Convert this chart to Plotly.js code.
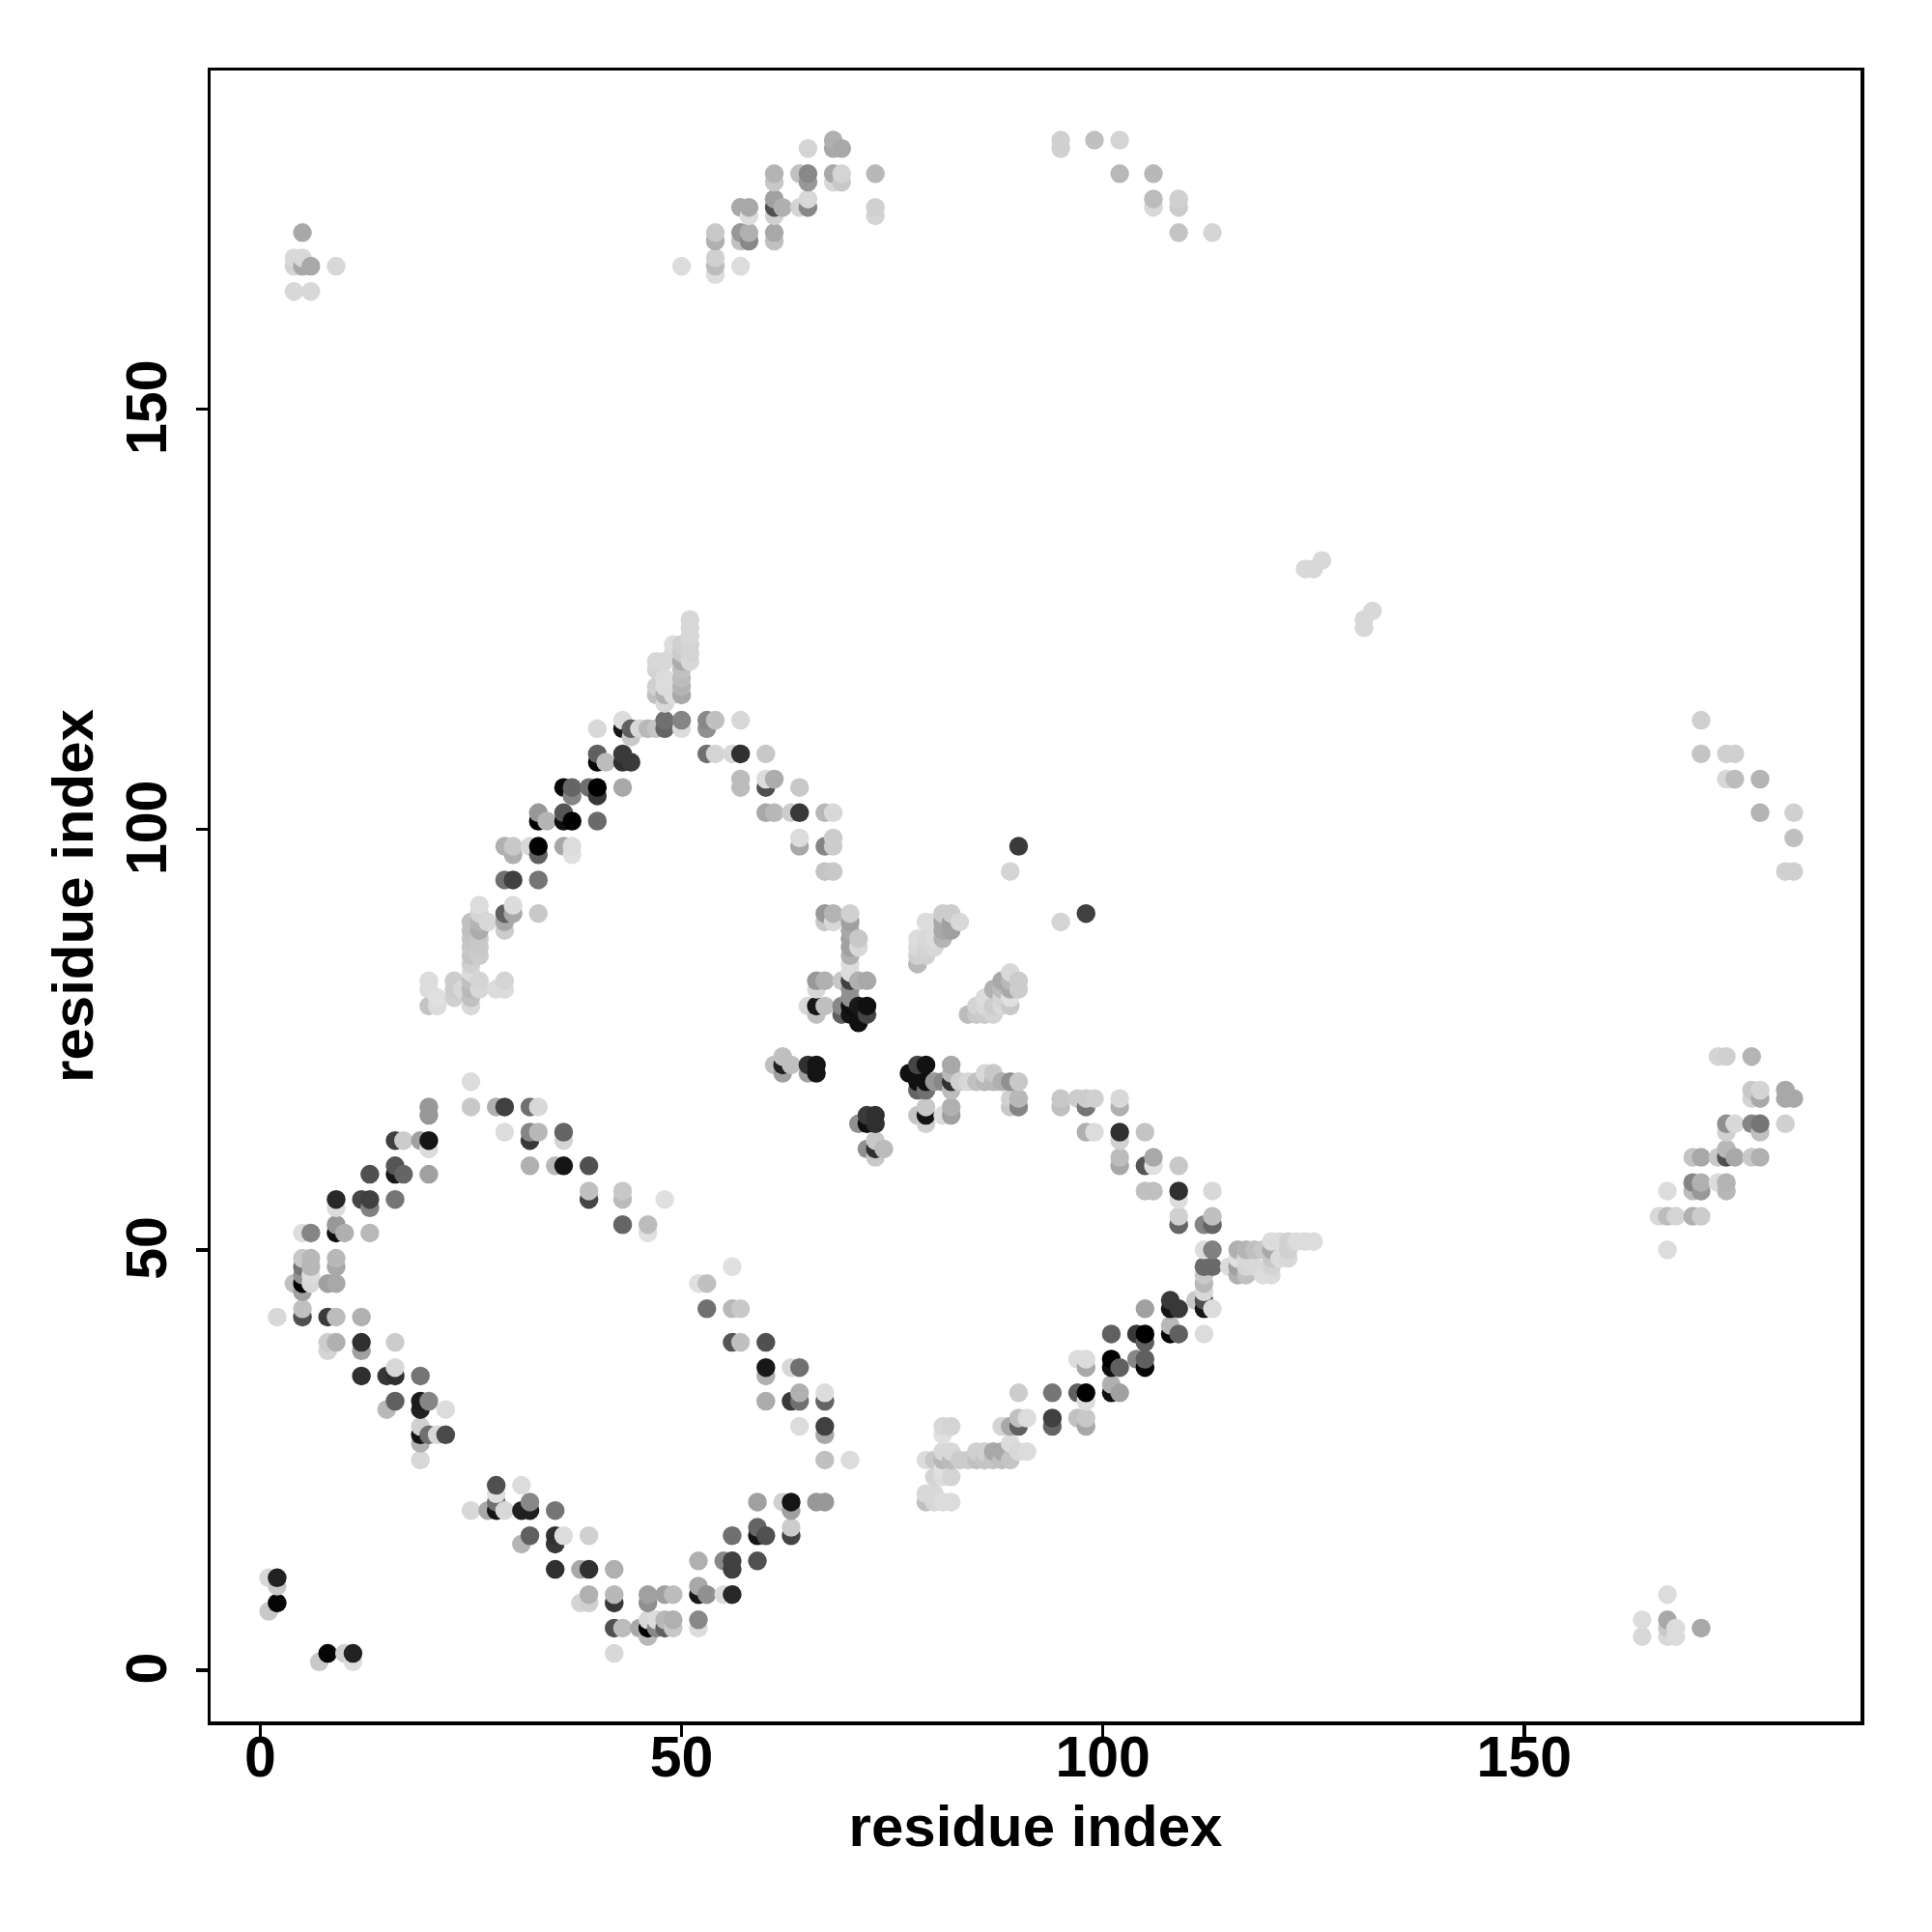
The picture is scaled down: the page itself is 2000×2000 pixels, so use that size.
<!DOCTYPE html>
<html>
<head>
<meta charset="utf-8">
<script src="https://cdn.plot.ly/plotly-3.0.1.min.js"></script>
<style>html,body{margin:0;padding:0;background:#fff}#chart{width:2000px;height:2000px}</style>
</head>
<body>
<div id="chart"></div>
<script>
// Each entry: [residue index i, residue index j, grey level 0 (black) .. 255 (white)]
const cornerContacts = [[1,7,0xc8],[1,11,0xd8],[2,8,0x05],[2,10,0xc8],[2,11,0x22],[7,1,0xc8],[8,2,0x05],[10,2,0xd0],[11,1,0xdd],[11,2,0x22],[42,2,0xd8]];
const lowerLeftArm = [[2,42,0xd8],[5,42,0x50],[5,43,0xc0],[8,42,0x3a],[9,42,0xbc],[12,42,0xb0],[8,39,0xcc],[9,39,0xb0],[12,39,0x30],[16,39,0xcc],[8,38,0xd4],[12,38,0xa0],
[12,35,0x30],[15,35,0x38],[16,35,0x30],[19,35,0x75],[16,36,0xd8],[15,31,0xb8],[16,32,0x60],[19,32,0x1c],[20,32,0x85],[19,31,0x22],[22,31,0xdc],
[19,28,0x15],[20,28,0x70],[21,28,0xd8],[22,28,0x4a],[19,29,0xd0],[19,27,0xb0],[19,25,0xd8],
[28,22,0x50],[31,22,0xdc],[28,21,0xe0],[28,20,0x70],[25,19,0xd8],[27,19,0xa8],[28,19,0x15],[29,19,0xd8],[31,19,0x20],[32,19,0x20],[32,20,0x88],[35,19,0x75],
[32,16,0x60],[35,16,0x30],[36,16,0xdc],[39,16,0xd0],[31,15,0xb4],[35,15,0x38],[35,12,0x30],[38,12,0xa8],[39,12,0x30],[42,12,0xb0],
[39,9,0xb0],[42,9,0xb8],[46,9,0xa0],[48,9,0xa0],[49,9,0xbc],[38,8,0xd4],[39,8,0xd0],[42,8,0x38],[46,8,0x90],
[42,5,0x50],[43,5,0xbc],[45,5,0xa8],[46,5,0x00],[47,5,0x88],[48,5,0x60],[49,5,0xc8],[46,6,0xd8],[47,6,0xdc],[48,6,0xb8],[49,6,0xb0],[46,4,0xb8]];
const lowerMiddleArm = [[52,5,0xdc],[52,6,0x88],[52,9,0x18],[52,10,0xa8],[53,9,0x90],[55,9,0xdc],[56,9,0x28],[52,13,0xb0],[55,13,0x88],[56,13,0x40],[59,13,0x50],[56,12,0x40],
[56,16,0x70],[59,16,0x15],[60,16,0x50],[63,16,0x45],[59,17,0x65],[63,17,0xcc],[59,20,0xa0],[62,20,0xd0],[63,20,0x15],[66,20,0x98],[67,20,0x98],[63,19,0xa0],
[67,25,0xc0],[70,25,0xdc],[64,29,0xdc],[67,29,0x40],[67,28,0xa8],[60,32,0xac],[63,32,0x3a],[64,32,0x70],[64,33,0xb0],[67,32,0x65],[67,33,0xdc],
[60,36,0x18],[63,36,0xd8],[64,36,0x70],[60,35,0xb0],[56,39,0x55],[57,39,0xc0],[60,39,0x50],[53,43,0x70],[56,43,0xb8],[57,43,0xc8],[52,46,0xe0],[53,46,0xc0],[56,48,0xe0]];
const upperLeftLowerArc = [[4,46,0xc0],[5,46,0x00],[6,46,0xd8],[8,46,0xa0],[9,46,0xa8],[5,45,0xa0],[5,47,0x90],[6,47,0xdc],[5,48,0x75],[6,48,0xb8],[9,48,0xa8],[5,49,0xc8],[6,49,0xb8],[9,49,0xb8],
[5,52,0xdc],[6,52,0x85],[9,52,0x10],[10,52,0xb0],[13,52,0xb8],[9,53,0x98],[9,55,0xdc],[13,55,0x80],[9,56,0x28],[12,56,0x45],[13,56,0x40],[16,56,0x75],
[13,59,0x50],[16,59,0x18],[17,59,0x65],[20,59,0xa0],[16,60,0x55],[16,63,0x40],[17,63,0xcc],[19,63,0xa0],[20,63,0x15],[20,62,0xdc],[20,66,0x98],[20,67,0x98],
[25,67,0xc8],[28,67,0xb0],[29,67,0x40],[32,67,0x70],[33,67,0xd8],[25,70,0xdc],[29,64,0xdc],[32,64,0x85],[33,64,0xb8],[36,64,0x65],[32,63,0x38],[36,63,0xd4],
[32,60,0xb0],[35,60,0xb8],[36,60,0x15],[39,60,0x50],[39,57,0xc0],[43,57,0xc8],[39,56,0x45],[43,56,0xbc],[48,56,0xe0],[43,53,0x65],[46,53,0xbc],[46,52,0xe0]];
const upperLeftArc = [[20,79,0xc4],[21,79,0xdc],[25,79,0xd8],[21,80,0xe0],[23,80,0xd0],[25,80,0xc0],[20,81,0xdc],[23,81,0xcc],[24,81,0xd8],[25,81,0xb8],[26,81,0xd8],[28,81,0xdc],[29,81,0xdc],
[20,82,0xdc],[23,82,0xcc],[25,82,0xc0],[26,82,0xd4],[29,82,0xd4],[25,83,0xdc],[25,84,0xd0],[25,85,0xc4],[26,85,0xcc],[25,86,0xc8],[26,86,0xc8],[25,87,0xc4],[26,87,0xc8],
[25,88,0xc0],[26,88,0xac],[29,88,0xcc],[25,89,0xc0],[26,89,0xb4],[27,89,0xd8],[29,89,0xa8],[26,90,0xd4],[29,90,0x60],[30,90,0xa8],[33,90,0xc8],[26,91,0xdc],[30,91,0xdc],
[29,94,0x70],[30,94,0x40],[33,94,0x75],[30,97,0xb0],[33,97,0x60],[37,97,0xe0],[29,98,0xb0],[30,98,0xc8],[32,98,0xd8],[33,98,0x02],[36,98,0xa8],[37,98,0xdc],
[33,101,0x00],[34,101,0xb4],[36,101,0x10],[37,101,0x02],[40,101,0x6a],[33,102,0x98],[36,102,0x55],[37,104,0x85],[40,104,0x38],[36,105,0x08],[37,105,0x65],[39,105,0x70],[40,105,0x00],[43,105,0xa8],
[40,108,0x05],[41,108,0xbc],[43,108,0x30],[44,108,0x3a],[40,109,0x60],[43,109,0x3a],[44,111,0xc8],[40,112,0xd8],[43,112,0x18],[44,112,0x60],[45,112,0xd8],[46,112,0xb8],[47,112,0xc4],[48,112,0x65],[50,112,0xdc],[53,112,0x90],
[43,113,0xdc],[48,113,0x70],[50,113,0x85],[53,113,0x88],[54,113,0xc0],[57,113,0xd8]];
const apexColumn = [[48,115,0xd8],[47,116,0xc0],[48,116,0xb0],[49,116,0xdc],[50,116,0xa8],[47,117,0xd0],[48,117,0xdc],[50,117,0xb4],[48,118,0xdc],[50,118,0xbc],[47,119,0xd4],[50,119,0xc0],
[47,120,0xd8],[48,120,0xd8],[50,120,0xac],[51,120,0xd8],[49,121,0xd8],[50,121,0xcc],[51,121,0xd4],[49,122,0xdc],[50,122,0xd0],[51,122,0xd4],[51,123,0xd8],[51,124,0xd8],[51,125,0xd8]];
const upperRightDescent = [[53,109,0x70],[54,109,0xd4],[56,109,0xd8],[57,109,0x30],[60,109,0xc8],[57,105,0xbc],[57,106,0xbc],[60,105,0x50],[60,106,0xdc],[61,106,0xac],[64,105,0xc8],
[60,102,0xa8],[61,102,0xb8],[63,102,0xcc],[64,102,0x38],[67,102,0xb8],[68,102,0xd8],[64,99,0xdc],[68,99,0xcc],[64,98,0xa8],[67,98,0x85],[68,98,0xcc],[67,95,0xc4],[68,95,0xc8],
[67,90,0x98],[68,90,0xb4],[70,90,0xd0],[67,89,0xc8],[68,89,0xd8],[70,89,0xa0],[70,88,0xa8],[70,87,0xa0],[71,87,0xc8],[70,86,0xa0],[71,86,0xd8],[70,85,0xb0],[70,84,0xdc],[70,83,0xdc],
[66,82,0x98],[67,82,0xb0],[69,82,0xc8],[70,82,0x40],[71,82,0xb0],[72,82,0xa8],[66,81,0xd8],[70,81,0x90],[70,80,0x90],[65,79,0xd8],[66,79,0x18],[67,79,0xc0],[66,78,0xc0],
[69,79,0x88],[70,79,0x10],[71,79,0x18],[72,79,0x10],[69,78,0x60],[70,78,0x15],[71,78,0x10],[72,78,0x45],[71,77,0x10],
[90,98,0x3a],[89,95,0xd4],[95,89,0xd4],[98,90,0x40]];
const centralFans = [[78,84,0xb8],[78,85,0xd0],[78,86,0xd8],[78,87,0xdc],[79,85,0xd0],[79,86,0xd4],[79,87,0xd8],[79,89,0xdc],[80,86,0xd8],[80,87,0xdc],[80,89,0xdc],[81,87,0xb4],[81,88,0xa8],[81,89,0xa8],[81,90,0xcc],[82,88,0xa0],[82,89,0xa0],[82,90,0xcc],[83,89,0xd8],
[84,78,0xbc],[85,78,0xc8],[85,79,0xd4],[86,78,0xcc],[86,79,0xd8],[86,80,0xdc],[87,78,0xd4],[87,79,0xcc],[87,81,0xb0],[88,79,0xd8],[88,80,0xd4],[88,81,0xbc],[88,82,0xa8],[89,79,0xc8],[89,80,0xe0],[89,81,0xa8],[89,82,0xb8],[89,83,0xd8],[90,81,0xcc],[90,82,0xcc]];
const centralClusters = [[61,72,0xc0],[62,73,0xc0],[62,71,0xa0],[62,72,0x20],[63,72,0xc0],[65,71,0xa0],[65,72,0x30],[66,72,0x15],[66,71,0x15],
[71,65,0x90],[72,65,0x10],[72,66,0x3a],[73,66,0x30],[73,65,0x30],[72,62,0x90],[73,61,0xc8],[73,62,0x30],[73,63,0xc8],[74,62,0xbc],
[77,71,0x10],[78,72,0x45],[79,72,0x12],[78,70,0x10],[79,70,0x10],[78,69,0x65],[79,69,0x70],[80,70,0x98],[81,70,0x88],[82,72,0xa8],[82,71,0xb8],[82,70,0x30],[82,69,0xbc],
[83,70,0xd0],[84,70,0xd8],[85,70,0xc0],[86,71,0xd8],[87,71,0xc8],[86,70,0xb8],[87,70,0xb8],[88,70,0xb0],[89,70,0x90],[90,70,0xc8],[89,68,0xd0],[90,68,0xb8],[89,67,0xc8],[90,67,0x85],
[78,66,0xc4],[79,66,0x15],[81,66,0xdc],[82,66,0xa0],[79,67,0xc8],[82,67,0xb0],[79,65,0xd0]];
const lowerRightArm = [[79,20,0xc0],[80,20,0xd8],[81,20,0xdc],[82,20,0xdc],[79,21,0xd8],[80,21,0xd8],[80,23,0xd4],[81,23,0xdc],[82,23,0xd4],[81,24,0xe0],
[79,25,0xdc],[80,25,0xc8],[81,25,0xb8],[82,25,0xbc],[83,25,0xcc],[84,25,0xcc],[85,25,0xc0],[86,25,0xc4],[87,25,0xc4],[88,25,0xc0],[89,25,0xc4],
[81,26,0xd8],[82,26,0xd8],[85,26,0xd0],[86,26,0xd0],[87,26,0xa8],[88,26,0xa8],[90,26,0xd8],[91,26,0xdc],[89,27,0xdc],[81,28,0xe0],[81,29,0xd8],[82,29,0xd4],
[88,29,0xd4],[89,29,0xa8],[90,29,0x60],[94,29,0x65],[98,29,0xa8],[97,30,0xc0],[98,30,0xc8],[90,30,0xc0],[91,30,0xdc],[94,30,0x40],
[90,33,0xcc],[94,33,0x75],[97,33,0x60],[98,33,0x00],[101,33,0x10],[102,33,0xa0],[101,34,0xb0],[98,32,0xdc],[98,36,0xa8],[101,36,0x10],[102,36,0x60],[105,36,0x08],
[97,37,0xdc],[98,37,0xdc],[101,37,0x00],[104,37,0x88],[105,37,0x60],[101,40,0x60],[104,40,0x38],[105,40,0x00],[105,39,0x60],[105,43,0xa0],
[108,40,0x05],[108,41,0xb8],[109,40,0x60],[112,40,0xdc],[108,43,0x15],[109,43,0x38],[112,43,0x15],[113,43,0xdc],[108,44,0x38],[111,44,0xc8],[112,44,0x50],[112,45,0xd8],[112,46,0xb8],[112,47,0xc8],[112,48,0x6a],[113,48,0x6a]];
const lowerRightBranch = [[116,47,0xb0],[117,47,0xc0],[119,47,0xdc],[120,47,0xdc],[115,48,0xdc],[116,48,0xa0],[117,48,0xd4],[118,48,0xd8],[120,48,0xd4],[116,49,0xe0],[117,49,0xd8],[120,49,0xc8],[121,49,0xdc],[122,49,0xd8],
[112,50,0xdc],[113,50,0x80],[116,50,0xb0],[117,50,0xb4],[118,50,0xc0],[119,50,0xc8],[120,50,0xa8],[122,50,0xd0],[120,51,0xdc],[121,51,0xdc],[122,51,0xd0],[123,51,0xdc],[124,51,0xdc],[125,51,0xdc]];
const rightDescent = [[112,53,0x85],[113,53,0x65],[109,53,0x65],[109,54,0xd0],[113,54,0xc0],[105,57,0xc0],[106,57,0xc0],[109,57,0x30],[113,57,0xd8],[109,56,0xdc],
[102,60,0xa8],[105,60,0x55],[106,60,0xe0],[109,60,0xc8],[102,61,0xbc],[106,61,0xa8],[98,64,0xb0],[99,64,0xdc],[102,64,0x30],[105,64,0xc4],[102,63,0xd0],
[95,67,0xc0],[98,67,0x75],[102,67,0xb0],[95,68,0xc8],[97,68,0xcc],[98,68,0xcc],[99,68,0xd0],[102,68,0xd8]];
const topLeftPatch = [[4,164,0xd8],[6,164,0xd8],[4,167,0xd4],[5,167,0xa8],[6,167,0xa8],[9,167,0xd8],[4,168,0xd8],[5,168,0xd8],[5,171,0xa8]];
const topMiddleBand = [[54,166,0xdc],[50,167,0xdc],[54,167,0xbc],[57,167,0xdc],[54,168,0xd0],[54,170,0xb0],[57,170,0xc0],[58,170,0x88],[61,170,0xc0],[54,171,0xc8],[57,171,0x98],[58,171,0xb0],[61,171,0xa8],
[58,173,0xdc],[61,173,0xd0],[73,173,0xd4],[57,174,0xa8],[58,174,0xa8],[61,174,0x50],[62,174,0xb0],[64,174,0xd4],[65,174,0x88],[73,174,0xd0],[61,175,0xa0],[65,175,0xd8],
[61,177,0xc8],[65,177,0x98],[68,177,0xd8],[69,177,0xc8],[61,178,0xb4],[64,178,0xc0],[65,178,0x88],[68,178,0xa8],[69,178,0xd4],[73,178,0xb8],[65,181,0xd4],[68,181,0xa8],[69,181,0xa8],[68,182,0xb0]];
const topRightBand = [[95,181,0xd0],[95,182,0xd0],[99,182,0xc0],[102,182,0xd4],[102,178,0xb8],[106,178,0xb8],[106,174,0xd8],[106,175,0xbc],[109,174,0xcc],[109,175,0xd0],[109,171,0xc4],[113,171,0xd4]];
const isolatedMiddle = [[124,131,0xd8],[125,131,0xd8],[126,132,0xd8],[131,124,0xd8],[131,125,0xd8],[132,126,0xd8]];
const farRightLower = [[167,50,0xdc],[166,54,0xd8],[167,54,0xbc],[168,54,0xd4],[170,54,0xb0],[171,54,0xcc],[167,57,0xdc],[170,57,0xbc],[171,57,0x98],[174,57,0xb8],[170,58,0x85],[171,58,0xb0],[173,58,0xdc],[174,58,0xb4],
[170,61,0xc4],[171,61,0xa8],[173,61,0xc8],[174,61,0x50],[175,61,0xa8],[177,61,0xc8],[178,61,0xb0],[174,62,0xb8],[174,64,0xd0],[178,64,0xc0],[174,65,0x90],[175,65,0xd8],[177,65,0x85],[178,65,0x75],[181,65,0xd0],
[177,68,0xd4],[178,68,0xa8],[181,68,0xa8],[182,68,0xa8],[177,69,0xc8],[178,69,0xd4],[181,69,0xa8],[173,73,0xd4],[174,73,0xd0],[177,73,0xb4]];
const farRightUpper = [[171,113,0xd0],[171,109,0xc4],[174,109,0xd0],[175,109,0xd0],[174,106,0xd8],[175,106,0xbc],[178,106,0xb4],[178,102,0xb4],[182,102,0xd0],[182,99,0xc0],[181,95,0xd0],[182,95,0xd0]];
const bottomRightPatch = [[164,4,0xd8],[164,6,0xdc],[167,4,0xd8],[167,5,0xc8],[167,6,0xa8],[167,9,0xdc],[168,4,0xdc],[168,5,0xdc],[171,5,0xa8]];

const tickValues = [0, 50, 100, 150];
const tickLabels = ['0', '50', '100', '150'];
const axisLabel = 'residue index';

const contacts = [].concat(cornerContacts, lowerLeftArm, lowerMiddleArm, upperLeftLowerArc, upperLeftArc, apexColumn,
  upperRightDescent, centralFans, centralClusters, lowerRightArm, lowerRightBranch, rightDescent, topLeftPatch,
  topMiddleBand, topRightBand, isolatedMiddle, farRightLower, farRightUpper, bottomRightPatch)
  .sort((a, b) => a[0] - b[0] || a[1] - b[1]);

const tickFont = {family: '"Liberation Sans", Arial, sans-serif', size: 59, color: '#000'};
const titleFont = {family: '"Liberation Sans", Arial, sans-serif', size: 60, color: '#000'};
const boldText = s => '<b>' + s + '</b>';
const axisBase = {
  tickmode: 'array', tickvals: tickValues, ticktext: tickLabels.map(boldText), ticks: 'outside', ticklen: 12, tickwidth: 3.5,
  tickcolor: '#000', showline: true, mirror: true, linecolor: '#000', linewidth: 3.5, showgrid: false, zeroline: false,
  tickfont: tickFont
};

Plotly.newPlot('chart', [{
  type: 'scatter', mode: 'markers',
  x: contacts.map(c => c[0]), y: contacts.map(c => c[1]),
  marker: {size: 19.5, color: contacts.map(c => c[2]), cmin: 0, cmax: 255,
    colorscale: [[0, '#000'], [1, '#fff']], showscale: false, line: {width: 0}}
}], {
  width: 2000, height: 2000, showlegend: false, paper_bgcolor: '#fff', plot_bgcolor: '#fff',
  margin: {l: 218, r: 74, t: 73, b: 218, pad: 0},
  xaxis: Object.assign({}, axisBase, {range: [-5.90, 189.92], ticklabelstandoff: -29, title: {text: boldText(axisLabel), font: titleFont, standoff: 18}}),
  yaxis: Object.assign({}, axisBase, {range: [-6.09, 190.28], tickangle: -90, ticklabelstandoff: 7, ticklabelshift: 7, title: {text: boldText(axisLabel), font: titleFont, standoff: 4}})
}, {displayModeBar: false, staticPlot: true});
</script>
</body>
</html>
